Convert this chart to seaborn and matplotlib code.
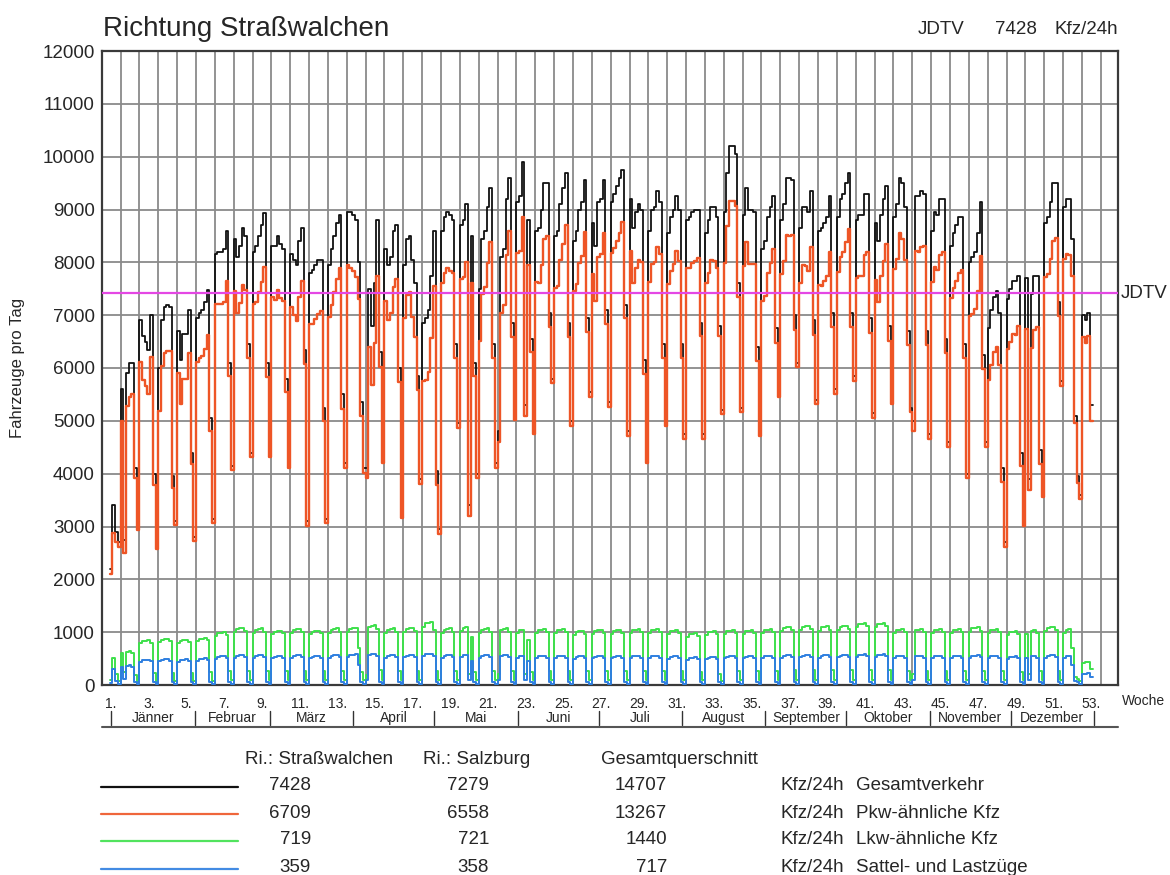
import matplotlib
matplotlib.use("Agg")
import matplotlib.pyplot as plt
import matplotlib.transforms as mtrans
from matplotlib.lines import Line2D
import seaborn as sns
import pandas as pd
import numpy as np

sns.set_style("white")
plt.rcParams['font.family'] = ['Liberation Sans', 'DejaVu Sans']

# Tageswerte 2015 je Kalenderwoche (Mo..So); None = Tag nicht im Jahr
gesamt_wochen = [
    [None, None, None, 2200, 3400, 2900, 2700],
    [5600, 2750, 5900, 6100, 6100, 4100, 3000],
    [6900, 6600, 6500, 6350, 7000, 4000, 2650],
    [6000, 6900, 7150, 7200, 7150, 3950, 3100],
    [6700, 6150, 6650, 6650, 7100, 4400, 2800],
    [6950, 7050, 7100, 7250, 7480, 5050, 3150],
    [8150, 8200, 8200, 8250, 8600, 6100, 4150],
    [8450, 8100, 8300, 8650, 8500, 6450, 4400],
    [8200, 8300, 8500, 8700, 8930, 6100, 4400],
    [8300, 8300, 8500, 8350, 8250, 5800, 4200],
    [8150, 8050, 7950, 8400, 8650, 6350, 3100],
    [7800, 7850, 7950, 8050, 8050, 5250, 3150],
    [7950, 8250, 8500, 8750, 8900, 5500, 4200],
    [8950, 8950, 8900, 8800, 8000, 5350, 4100],
    [4100, 7500, 6800, 7600, 8800, 6300, 4300],
    [8250, 7950, 8100, 8600, 8700, 6000, 3250],
    [7950, 8450, 8500, 8050, 7600, 5850, 3900],
    [6850, 6950, 7100, 7750, 8600, 4050, 2950],
    [8600, 8850, 8950, 8900, 8800, 6450, 4950],
    [8700, 8800, 9100, 3400, 8500, 6100, 4000],
    [7500, 8450, 8600, 9050, 9400, 6450, 4200],
    [4800, 8100, 8250, 9200, 9600, 6850, 5100],
    [9150, 9250, 9900, 5300, 8800, 6550, 4850],
    [8600, 8650, 9000, 9500, 9500, 7050, 5800],
    [8500, 8600, 9100, 9400, 9700, 6850, 5000],
    [8400, 8600, 9000, 9150, 9550, 6950, 5550],
    [8750, 8300, 9150, 9200, 9550, 7100, 5350],
    [9150, 9300, 9450, 9600, 9750, 7200, 4800],
    [9200, 8650, 8950, 9100, 9000, 6150, 4300],
    [8600, 9000, 9050, 9350, 9150, 6450, 5000],
    [8550, 8850, 9000, 9250, 9000, 6450, 4750],
    [8800, 8850, 8950, 9000, 9000, 6850, 4750],
    [8550, 8800, 9050, 9050, 8850, 6800, 5200],
    [8950, 9700, 10200, 10200, 10050, 7600, 5250],
    [8900, 9400, 9000, 9000, 8950, 6400, 4800],
    [8250, 8400, 8850, 9050, 9250, 6750, 5550],
    [8800, 9100, 9600, 9600, 9550, 7000, 6100],
    [8650, 9050, 9050, 8950, 9350, 6900, 5400],
    [8600, 8650, 8750, 8850, 9250, 7050, 5600],
    [8850, 9200, 9300, 9500, 9700, 7050, 5850],
    [8800, 8900, 8900, 9300, 9300, 6950, 5150],
    [8750, 8400, 8900, 9200, 9450, 6800, 5400],
    [8850, 9100, 9600, 9500, 9050, 6700, 5250],
    [5000, 9250, 9250, 9350, 9300, 6700, 4750],
    [8600, 8950, 8900, 9200, 9200, 6550, 4600],
    [8300, 8550, 8700, 8850, 8850, 6450, 4000],
    [8000, 8100, 8200, 8550, 9150, 6250, 4600],
    [6750, 7100, 7350, 7450, 7050, 4100, 2700],
    [7300, 7500, 7650, 7650, 7750, 4400, 3100],
    [7700, 3900, 7400, 7750, 7750, 4450, 3650],
    [8750, 8850, 9150, 9500, 9500, 7250, 5750],
    [9050, 9200, 9200, 8450, 5100, 3950, 3600],
    [7000, 6900, 7050, 5300, None, None, None],
]

lkw_wochen = [
    [None, None, None, 90, 520, 200, 80],
    [600, 250, 620, 640, 600, 180, 70],
    [790, 830, 840, 850, 800, 220, 70],
    [820, 860, 870, 880, 830, 230, 80],
    [800, 840, 850, 860, 810, 220, 80],
    [830, 870, 880, 890, 850, 240, 80],
    [930, 980, 990, 1000, 950, 260, 90],
    [1000, 1060, 1070, 1070, 1020, 270, 90],
    [990, 1050, 1060, 1070, 1010, 270, 90],
    [960, 1010, 1020, 1030, 980, 260, 90],
    [990, 1050, 1060, 1060, 1010, 270, 90],
    [960, 1010, 1020, 1020, 980, 260, 90],
    [990, 1050, 1060, 1070, 1010, 270, 90],
    [1000, 1060, 1070, 1080, 700, 250, 90],
    [180, 1100, 1120, 1130, 1060, 280, 90],
    [990, 1050, 1060, 1070, 1010, 270, 90],
    [1000, 1060, 1070, 1080, 1020, 270, 90],
    [1100, 1170, 1180, 1190, 1050, 260, 90],
    [990, 1050, 1060, 1070, 1010, 270, 90],
    [1020, 1080, 1090, 200, 900, 250, 90],
    [990, 1050, 1060, 1070, 1010, 270, 90],
    [200, 1050, 1060, 1070, 1010, 270, 90],
    [980, 1040, 1050, 200, 850, 250, 90],
    [980, 1040, 1050, 1060, 1000, 270, 90],
    [980, 1040, 1050, 1060, 1000, 270, 90],
    [950, 1010, 1020, 1030, 970, 260, 90],
    [970, 1030, 1040, 1050, 990, 260, 90],
    [970, 1030, 1040, 1050, 990, 260, 90],
    [980, 1040, 1050, 1060, 1000, 270, 90],
    [980, 1040, 1050, 1060, 1000, 270, 90],
    [960, 1020, 1030, 1040, 980, 260, 90],
    [900, 960, 970, 980, 920, 250, 90],
    [940, 1000, 1010, 1020, 960, 200, 80],
    [960, 1020, 1030, 1040, 980, 260, 90],
    [960, 1020, 1030, 1040, 980, 260, 90],
    [980, 1040, 1050, 1060, 1000, 270, 90],
    [1020, 1080, 1090, 1100, 1040, 280, 90],
    [1040, 1100, 1110, 1120, 1060, 280, 90],
    [1030, 1090, 1100, 1110, 1050, 280, 90],
    [1040, 1100, 1110, 1120, 1060, 280, 90],
    [1090, 1150, 1160, 1170, 1110, 290, 90],
    [1090, 1150, 1160, 1170, 1110, 290, 90],
    [980, 1040, 1050, 1060, 1000, 270, 90],
    [200, 1040, 1050, 1060, 1000, 270, 90],
    [980, 1040, 1050, 1060, 1000, 270, 90],
    [980, 1040, 1050, 1060, 1000, 270, 90],
    [1010, 1070, 1080, 1090, 1030, 270, 90],
    [980, 1040, 1050, 1060, 1000, 260, 90],
    [940, 1000, 1010, 1020, 960, 250, 90],
    [970, 200, 1030, 1040, 980, 260, 90],
    [1020, 1080, 1090, 1100, 1040, 270, 90],
    [990, 1050, 1060, 700, 150, 120, 80],
    [420, 430, 440, 300, None, None, None],
]

sattel_wochen = [
    [None, None, None, 40, 300, 80, 20],
    [350, 120, 360, 380, 340, 60, 15],
    [440, 470, 475, 480, 450, 60, 15],
    [450, 480, 490, 495, 460, 60, 15],
    [440, 470, 480, 485, 450, 60, 15],
    [460, 490, 500, 505, 470, 60, 15],
    [500, 530, 540, 545, 510, 60, 15],
    [520, 550, 560, 565, 530, 60, 15],
    [520, 550, 560, 565, 530, 60, 15],
    [505, 535, 545, 550, 515, 60, 15],
    [520, 550, 560, 565, 530, 60, 15],
    [505, 535, 545, 550, 515, 60, 15],
    [520, 550, 560, 570, 530, 60, 15],
    [530, 560, 570, 580, 370, 60, 15],
    [90, 570, 580, 590, 550, 60, 15],
    [520, 550, 560, 565, 530, 60, 15],
    [525, 555, 565, 570, 535, 60, 15],
    [550, 580, 590, 595, 550, 60, 15],
    [520, 550, 560, 565, 530, 60, 15],
    [530, 560, 570, 100, 460, 60, 15],
    [520, 550, 560, 565, 530, 60, 15],
    [100, 550, 560, 565, 530, 60, 15],
    [515, 545, 555, 100, 450, 60, 15],
    [510, 540, 550, 555, 520, 60, 15],
    [510, 540, 550, 555, 520, 60, 15],
    [500, 530, 540, 545, 510, 60, 15],
    [505, 535, 545, 550, 515, 60, 15],
    [505, 535, 545, 550, 515, 60, 15],
    [510, 540, 550, 555, 520, 60, 15],
    [510, 540, 550, 555, 520, 60, 15],
    [500, 530, 540, 545, 510, 60, 15],
    [480, 510, 520, 525, 490, 60, 15],
    [490, 520, 530, 535, 500, 50, 15],
    [505, 535, 545, 550, 515, 60, 15],
    [505, 535, 545, 550, 515, 60, 15],
    [510, 540, 550, 555, 520, 60, 15],
    [520, 550, 560, 565, 530, 60, 15],
    [525, 555, 565, 570, 535, 60, 15],
    [520, 550, 560, 565, 530, 60, 15],
    [525, 555, 565, 570, 535, 60, 15],
    [535, 565, 575, 580, 545, 60, 15],
    [535, 565, 575, 580, 545, 60, 15],
    [510, 540, 550, 555, 520, 60, 15],
    [100, 540, 550, 555, 520, 60, 15],
    [510, 540, 550, 555, 520, 60, 15],
    [510, 540, 550, 555, 520, 60, 15],
    [515, 545, 555, 560, 525, 60, 15],
    [510, 540, 550, 555, 520, 60, 15],
    [495, 525, 535, 540, 505, 60, 15],
    [505, 100, 545, 550, 515, 60, 15],
    [520, 550, 560, 565, 530, 60, 15],
    [510, 540, 550, 370, 70, 50, 15],
    [200, 210, 220, 150, None, None, None],
]

jdtv = 7428
monate = ['Jänner', 'Februar', 'März', 'April', 'Mai', 'Juni', 'Juli',
          'August', 'September', 'Oktober', 'November', 'Dezember']
monat_start = [0, 31, 59, 90, 120, 151, 181, 212, 243, 273, 304, 334, 365]

kopf = ['Ri.: Straßwalchen', 'Ri.: Salzburg', 'Gesamtquerschnitt']
ri_strasswalchen = [7428, 6709, 719, 359]
ri_salzburg = [7279, 6558, 721, 358]
gesamtquerschnitt = [14707, 13267, 1440, 717]
klassen = ['Gesamtverkehr', 'Pkw-ähnliche Kfz', 'Lkw-ähnliche Kfz', 'Sattel- und Lastzüge']

farben = ['#111111', '#ee5526', '#3ee04c', '#2e7fe0']
jdtv_farbe = '#e447e4'


def tage(rows):
    return np.array([v for r in rows for v in r if v is not None], dtype=float)


gesamt = tage(gesamt_wochen)
lkw = tage(lkw_wochen)
sattel = tage(sattel_wochen)
pkw = gesamt - lkw

# 1.1.2015 = Donnerstag der KW 1; x in Wochen ab Montag KW 1
tag = np.arange(len(gesamt))
x = np.append((tag + 3) / 7.0, (tag[-1] + 4) / 7.0)


def stufe(v):
    return np.append(v, v[-1])


df = pd.DataFrame({'x': x, 'Gesamt': stufe(gesamt), 'Pkw': stufe(pkw),
                   'Lkw': stufe(lkw), 'Sattel': stufe(sattel)})

W, H = 1170, 875
fig = plt.figure(figsize=(W / 100, H / 100), dpi=100)
L, R, T, B = 101.7, 1118, 51, 685
ax = fig.add_axes([L / W, 1 - B / H, (R - L) / W, (B - T) / H])

reihen = ['Gesamt', 'Pkw', 'Lkw', 'Sattel']
breiten = [1.3, 1.7, 1.4, 1.4]
for name, c, lw in zip(reihen, farben, breiten):
    sns.lineplot(data=df, x='x', y=name, ax=ax, color=c, lw=lw,
                 drawstyle='steps-post', estimator=None, legend=False, zorder=3)
ax.axhline(jdtv, color=jdtv_farbe, lw=1.6, zorder=4)

ax.set_xlim(0, (R - L) / 18.85)
ax.set_ylim(0, 12000)
ax.set_yticks(np.arange(0, 12001, 1000))
ax.set_yticklabels([str(v) for v in range(0, 12001, 1000)], fontsize=13.5)
ax.set_xticks(np.arange(0, 54), minor=True)
wochen = np.arange(1, 54, 2)
ax.set_xticks(wochen - 0.5)
ax.set_xticklabels([f'{k}.' for k in wochen], fontsize=10)
ax.tick_params(axis='both', which='both', length=0)
ax.tick_params(axis='y', pad=5)
ax.tick_params(axis='x', pad=9)
ax.grid(True, axis='y', which='major', color='#8a8a8a', lw=1.3)
ax.grid(True, axis='x', which='minor', color='#8a8a8a', lw=1.3)
ax.grid(False, axis='x', which='major')
ax.set_axisbelow(True)
for s in ax.spines.values():
    s.set_color('#3a3a3a')
    s.set_linewidth(1.6)
ax.set_xlabel('')
ax.set_ylabel('')

# Monatsleiste unter der Achse
tr = mtrans.blended_transform_factory(ax.transData, ax.transAxes)
yfrac = lambda py: (B - py) / (B - T)
for d in monat_start:
    xs = (d + 3.5) / 7.0
    ax.plot([xs, xs], [yfrac(711), yfrac(725)], color='#333333', lw=1.0,
            transform=tr, clip_on=False)
for i, m in enumerate(monate):
    xm = (monat_start[i] + monat_start[i + 1]) / 2 / 7.0 + 0.5
    ax.text(xm, yfrac(718), m, transform=tr, ha='center', va='center', fontsize=10)
ax.plot([0, 1], [yfrac(727), yfrac(727)], color='#555555', lw=1.5,
        transform=ax.transAxes, clip_on=False)


def ft(px, py, s, **kw):
    fig.text(px / W, 1 - py / H, s, **kw)


ft(1143, 701, 'Woche', ha='center', va='center', fontsize=10)
ft(1121, 293, 'JDTV', ha='left', va='center', fontsize=13.5)
ft(103, 29, 'Richtung Straßwalchen', ha='left', va='center', fontsize=20)
ft(918, 30, 'JDTV', ha='left', va='center', fontsize=13.5)
ft(1037, 30, str(jdtv), ha='right', va='center', fontsize=13.5)
ft(1055, 30, 'Kfz/24h', ha='left', va='center', fontsize=13.5)
ft(18, 368, 'Fahrzeuge pro Tag', ha='center', va='center', rotation=90, fontsize=12)

# Tabelle / Legende
for px, s in zip([245, 423, 601], kopf):
    ft(px, 759, s, ha='left', va='center', fontsize=13.5)
zeilen_y = [786, 813, 840, 868]
for j in range(4):
    yy = zeilen_y[j]
    fig.add_artist(Line2D([101 / W, 238 / W], [1 - (yy + 1) / H, 1 - (yy + 1) / H],
                          color=farben[j], lw=1.6, alpha=0.9 if j else 1.0))
    ft(311, yy, str(ri_strasswalchen[j]), ha='right', va='center', fontsize=13.5)
    ft(489, yy, str(ri_salzburg[j]), ha='right', va='center', fontsize=13.5)
    ft(667, yy, str(gesamtquerschnitt[j]), ha='right', va='center', fontsize=13.5)
    ft(780, yy, 'Kfz/24h', ha='left', va='center', fontsize=13.5)
    ft(856, yy, klassen[j], ha='left', va='center', fontsize=13.5)

fig.savefig('out.png', dpi=100)
